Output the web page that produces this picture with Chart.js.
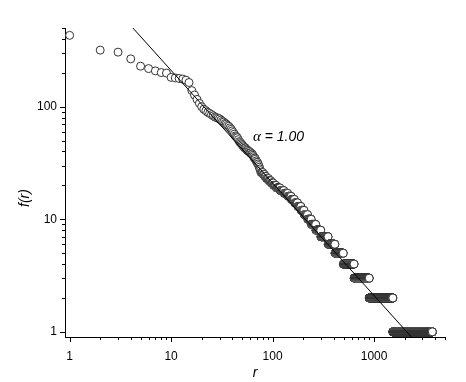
<!DOCTYPE html>
<html>
<head>
<meta charset="utf-8">
<script src="https://cdn.jsdelivr.net/npm/chart.js@4.4.1/dist/chart.umd.min.js"></script>
<style>
  html, body { margin: 0; padding: 0; background: #fff; }
  #wrap { width: 466px; height: 382px; }
</style>
</head>
<body>
<div id="wrap"><canvas id="chartZipf"></canvas></div>
<script>
// frequency of the first ranks, one per rank (rank = index + 1)
var headFreq = [430, 318, 305, 266, 229, 218, 208, 201, 199, 182,
                180, 178, 176, 172, 164, 139, 127, 116, 107, 100,
                95, 92, 89, 87, 85, 83, 81, 80, 79, 78,
                76, 74, 73, 71, 70, 68, 67, 65, 63, 61,
                59, 57, 55, 54, 53, 51, 49, 48, 47, 46,
                45, 44, 43, 43, 42, 41, 41, 40, 40, 39,
                39, 38, 38, 37, 36, 35, 35, 34, 33, 32,
                32, 31, 30, 29, 28, 27];

// tail: every rank up to tailLastRank[i] has frequency tailFreq[i]
var tailFreq     = [26, 25, 24, 23, 22, 21, 20, 19, 18, 17, 16, 15, 14,
                    13, 12, 11, 10, 9, 8, 7, 6, 5, 4, 3, 2, 1];
var tailLastRank = [80, 83, 86, 91, 96, 101, 108, 118, 129, 141, 152, 164, 176,
                    190, 204, 221, 240, 266, 298, 352, 411, 497, 635, 895, 1530, 3750];

// fitted power law f(r) = fitC / r^alpha
var alpha = 1.00;
var fitC = 2100;
var fitRange = [1, 5000];

var xTickLabels = [1, 10, 100, 1000];
var yTickLabels = [1, 10, 100];

var points = [];
headFreq.forEach(function (f, i) {
    points.push({x: i + 1, y: f});
});
var rank = headFreq.length;
tailFreq.forEach(function (f, i) {
    while (rank < tailLastRank[i]) {
        rank++;
        points.push({x: rank, y: f});
    }
});

var fitLine = fitRange.map(function (r) {
    return {x: r, y: fitC / Math.pow(r, alpha)};
});

var FONT = '"Liberation Sans", Arial, sans-serif';

// minor / major tick marks on log axes (major = powers of ten)
var tickMarks = {
    id: 'tickMarks',
    afterDraw: function (chart) {
        var ctx = chart.ctx;
        ctx.save();
        ctx.strokeStyle = '#000';
        ctx.lineWidth = 1;
        ['x', 'y'].forEach(function (id) {
            var sc = chart.scales[id];
            var e0 = Math.floor(Math.log10(sc.min));
            var e1 = Math.ceil(Math.log10(sc.max));
            for (var e = e0; e <= e1; e++) {
                for (var m = 1; m <= 9; m++) {
                    var v = m * Math.pow(10, e);
                    if (v < 1 || v > sc.max * 1.0001) continue;
                    var len = m === 1 ? 5 : 3;
                    var p = Math.round(sc.getPixelForValue(v)) + 0.5;
                    ctx.beginPath();
                    if (id === 'x') {
                        ctx.moveTo(p, sc.top);
                        ctx.lineTo(p, sc.top + len);
                    } else {
                        ctx.moveTo(sc.right, p);
                        ctx.lineTo(sc.right - len, p);
                    }
                    ctx.stroke();
                }
            }
        });
        ctx.restore();
    }
};

var alphaLabel = {
    id: 'alphaLabel',
    afterDraw: function (chart) {
        var ctx = chart.ctx;
        var x = chart.scales.x.getPixelForValue(64);
        var y = chart.scales.y.getPixelForValue(50);
        ctx.save();
        ctx.fillStyle = '#000';
        ctx.textBaseline = 'alphabetic';
        ctx.textAlign = 'left';
        ctx.font = 'italic 15px "Liberation Serif", serif';
        ctx.fillText('\u03b1', x, y);
        var w = ctx.measureText('\u03b1').width;
        ctx.font = 'italic 14px ' + FONT;
        ctx.fillText(' = ' + alpha.toFixed(2), x + w, y);
        ctx.restore();
    }
};

var ctz = document.getElementById('chartZipf');

var zipf = new Chart(ctz, {
    type: 'scatter',
    data: {
        datasets: [{
            label: 'fit',
            data: fitLine,
            showLine: true,
            borderColor: '#000',
            borderWidth: 1,
            pointRadius: 0,
            pointHoverRadius: 0
        }, {
            label: 'f(r)',
            data: points,
            pointRadius: 4,
            pointHoverRadius: 4,
            pointBorderWidth: 1,
            pointBackgroundColor: '#fff',
            pointBorderColor: '#333'
        }]
    },
    options: {
        responsive: true,
        maintainAspectRatio: false,
        animation: false,
        events: [],
        layout: {padding: {top: 28, right: 21, bottom: 0, left: 0}},
        plugins: {
            legend: {display: false},
            tooltip: {enabled: false}
        },
        scales: {
            x: {
                type: 'logarithmic',
                min: 0.9,
                max: 5000,
                afterFit: function (s) { s.height = 45; },
                grid: {display: false, drawTicks: false},
                border: {display: true, color: '#000', width: 1},
                ticks: {
                    autoSkip: false,
                    maxRotation: 0,
                    padding: 12,
                    color: '#000',
                    font: {family: FONT, size: 12},
                    callback: function (v) {
                        return xTickLabels.indexOf(v) >= 0 ? String(v) : '';
                    }
                },
                title: {
                    display: true,
                    text: 'r',
                    color: '#000',
                    padding: {top: 0, bottom: 0},
                    font: {family: FONT, size: 14, style: 'italic'}
                }
            },
            y: {
                type: 'logarithmic',
                min: 0.9,
                max: 500,
                afterFit: function (s) { s.width = 65; },
                grid: {display: false, drawTicks: false},
                border: {display: true, color: '#000', width: 1},
                ticks: {
                    autoSkip: false,
                    padding: 8,
                    color: '#000',
                    font: {family: FONT, size: 12},
                    callback: function (v) {
                        return yTickLabels.indexOf(v) >= 0 ? String(v) : '';
                    }
                },
                title: {
                    display: true,
                    text: 'f(r)        ',
                    color: '#000',
                    padding: {top: 17, bottom: 0},
                    font: {family: FONT, size: 14, style: 'italic'}
                }
            }
        }
    },
    plugins: [tickMarks, alphaLabel]
});
</script>
</body>
</html>
